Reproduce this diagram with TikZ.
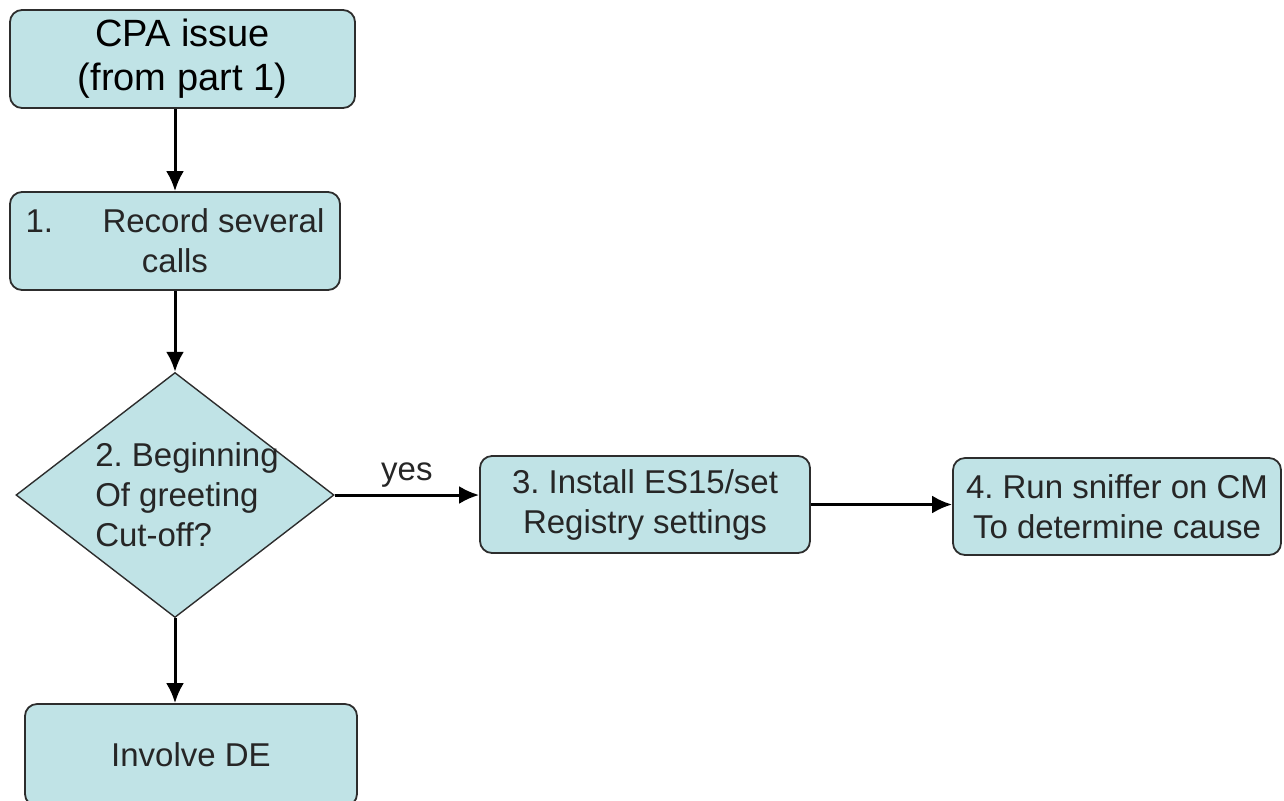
\documentclass[tikz,border=0pt]{standalone}
\usepackage{fontspec}
\setmainfont{Liberation Sans}
\usetikzlibrary{shapes.geometric,arrows.meta}
\definecolor{boxfill}{RGB}{192,227,230}
\definecolor{boxline}{RGB}{45,45,45}
\frenchspacing

\begin{document}
\begin{tikzpicture}[x=0.5pt,y=-0.5pt,
  box/.style={draw=boxline,fill=boxfill,line width=0.9pt,rounded corners=6pt,align=center,inner sep=0pt,
    font=\fontsize{16.5}{20}\selectfont,text=black!85},
  decision/.style={draw=boxline,fill=boxfill,line width=0.7pt,shape=diamond,aspect=1.3,inner sep=-8pt,
    minimum width=159pt,minimum height=122.5pt,align=left,font=\fontsize{16.5}{20}\selectfont,text=black!85},
  flow/.style={-{Latex[length=10pt,width=9pt]},line width=1.5pt}]

\useasboundingbox (0,0) rectangle (1284,800);

\node[box,minimum width=172.5pt,minimum height=49pt,font=\fontsize{19}{22}\selectfont,text=black] (cpa) at (182.5,59) {CPA issue\\(from part 1)};
\node[box,minimum width=165pt,minimum height=49pt] (rec) at (175,241) {1.\hspace{1.5em}Record several\\calls};
\node[decision] (dec) at (175,495) {\hspace*{12pt}2. Beginning\\\hspace*{12pt}Of greeting\\\hspace*{12pt}Cut-off?};
\node[box,minimum width=165pt,minimum height=48.5pt] (inst) at (645,504.5) {3. Install ES15/set\\Registry settings};
\node[box,minimum width=164pt,minimum height=48.5pt] (snif) at (1117,506.5) {4. Run sniffer on CM\\To determine cause};
\node[box,minimum width=166pt,minimum height=51pt] (de) at (191,755) {Involve DE};

\draw[flow] (cpa.south -| rec.north) -- (rec.north);
\draw[flow] (rec.south) -- (dec.north);
\draw[flow] (dec.east) -- (dec.east -| inst.west) node[midway,above,font=\fontsize{16.5}{20}\selectfont,text=black!85] {yes};
\draw[flow] (inst.east) -- (inst.east -| snif.west);
\draw[flow] (dec.south) -- (dec.south |- de.north);

\end{tikzpicture}
\end{document}
